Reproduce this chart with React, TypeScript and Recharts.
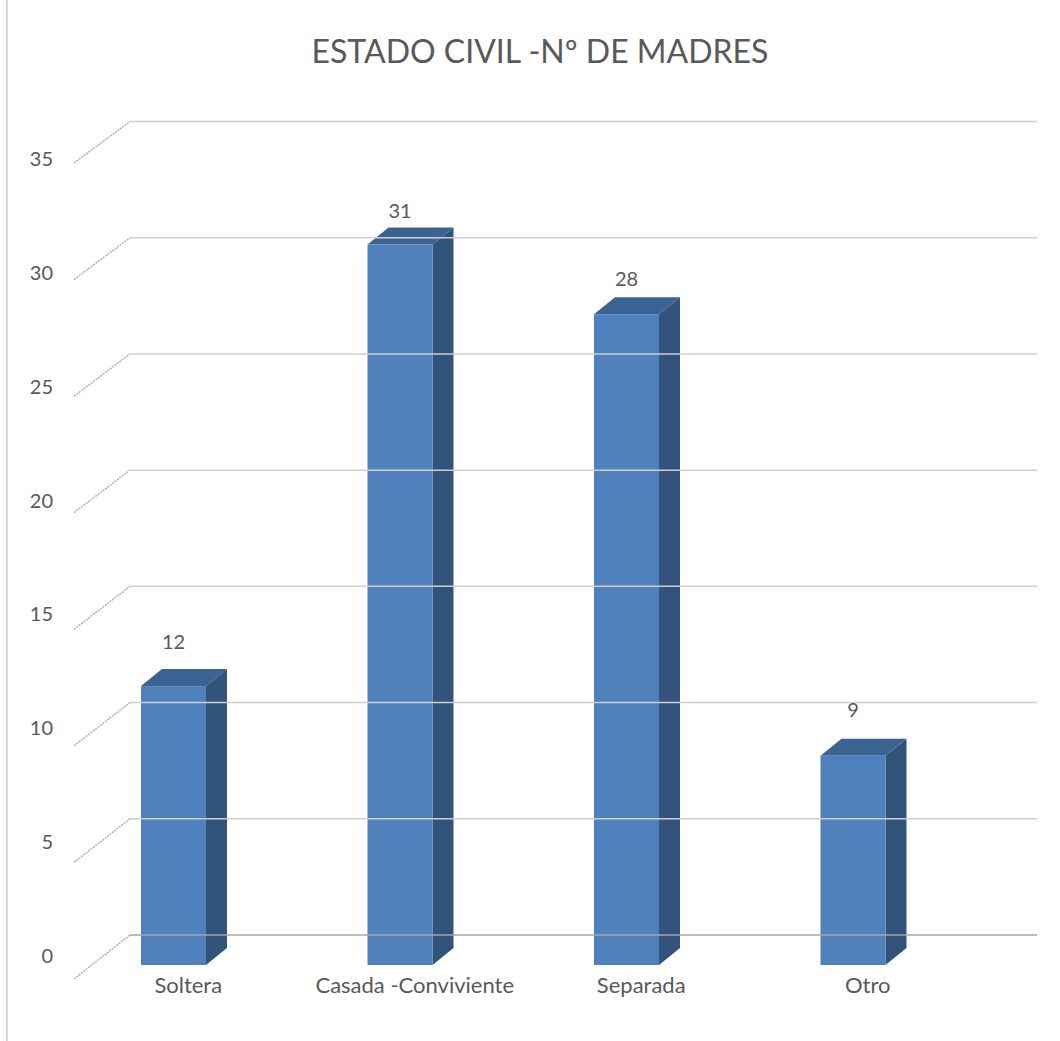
import { BarChart, Bar, XAxis, YAxis, LabelList } from 'recharts'

// Estado civil - número de madres
const categories = ['Soltera', 'Casada -Conviviente', 'Separada', 'Otro']
const madres = [12, 31, 28, 9]
const yTicks = [0, 5, 10, 15, 20, 25, 30, 35]

const data = categories.map((estado, i) => ({ estado, madres: madres[i] }))

const TEXT = '#595959'
const FONT = 'Lato, "Open Sans", sans-serif'
const FRONT = '#4F81BD'
const SIDE = '#32537A'
const TOP = '#3B6391'
const DX = 21 // depth of the bars
const DY = 17
const Y_MAX = 35

// 3D column: front face + side + top
function Bar3D(props: any) {
  const { x, y, width, height } = props
  if (height <= 0) return null
  const r = x + width
  const b = y + height
  return (
    <g>
      <polygon points={`${r},${y} ${r + DX},${y - DY} ${r + DX},${b - DY} ${r},${b}`} fill={SIDE} />
      <polygon points={`${x},${y} ${x + DX},${y - DY} ${r + DX},${y - DY} ${r},${y}`} fill={TOP} />
      <rect x={x} y={y} width={width} height={height} fill={FRONT} />
    </g>
  )
}

// y tick draws the label, the side wall diagonal and the back wall gridline
function WallTick(props: any) {
  const { x, y, payload } = props
  const v = payload.value
  const labelY = y - 9 + (v / Y_MAX) * 16.5
  const frontY = y + 14 - (v / Y_MAX) * 2.5
  const backY = y - 30
  return (
    <g>
      <line
        x1={x + 14}
        y1={frontY}
        x2={x + 70}
        y2={backY}
        stroke="#B0B0B0"
        strokeWidth={1.5}
        strokeDasharray="2 1"
      />
      <line
        x1={x + 70}
        y1={backY}
        x2={x + 977}
        y2={backY}
        stroke={v === 0 ? '#A6A6A6' : '#CFCFCF'}
        strokeWidth={1.5}
      />
      <text x={x - 7} y={labelY} dy="0.35em" textAnchor="end" fill={TEXT} fontSize={20} fontFamily={FONT}>
        {v}
      </text>
    </g>
  )
}

function CategoryTick(props: any) {
  const { x, y, payload } = props
  return (
    <text x={x + 15} y={y + 20} dy="0.35em" textAnchor="middle" fill={TEXT} fontSize={22} fontFamily={FONT}>
      {payload.value}
    </text>
  )
}

function ValueLabel(props: any) {
  const { x, y, width, value } = props
  // labels sit a bit higher on the short bars (perspective)
  const off = 46 - (value - 9) * 0.59
  return (
    <text x={x + width / 2} y={y - off} dy="0.35em" textAnchor="middle" fill={TEXT} fontSize={20} fontFamily={FONT}>
      {value}
    </text>
  )
}

export default function App() {
  return (
    <div style={{ position: 'relative', width: 1060, height: 1041, background: '#fff' }}>
      <style>{'body{margin:0}'}</style>
      <div style={{ position: 'absolute', left: 6, top: 0, width: 2, height: 1041, background: '#D9D9D9' }} />
      <div
        style={{
          position: 'absolute',
          top: 31,
          left: 0,
          width: 1080,
          textAlign: 'center',
          fontFamily: FONT,
          fontSize: 32,
          color: TEXT,
          lineHeight: '40px',
          whiteSpace: 'nowrap',
        }}
      >
        ESTADO CIVIL -Nº DE MADRES
      </div>
      <BarChart
        width={1060}
        height={1041}
        data={data}
        margin={{ top: 151.5, right: 94, left: 0, bottom: 0 }}
        barSize={65}
      >
        <YAxis
          domain={[0, Y_MAX]}
          ticks={yTicks}
          interval={0}
          width={60}
          axisLine={false}
          tickLine={false}
          tickSize={0}
          tickMargin={0}
          tick={<WallTick />}
        />
        <XAxis
          dataKey="estado"
          height={76}
          axisLine={false}
          tickLine={false}
          tickSize={0}
          tickMargin={0}
          interval={0}
          tick={<CategoryTick />}
        />
        <Bar dataKey="madres" shape={<Bar3D />} isAnimationActive={false}>
          <LabelList dataKey="madres" content={<ValueLabel />} />
        </Bar>
      </BarChart>
    </div>
  )
}
